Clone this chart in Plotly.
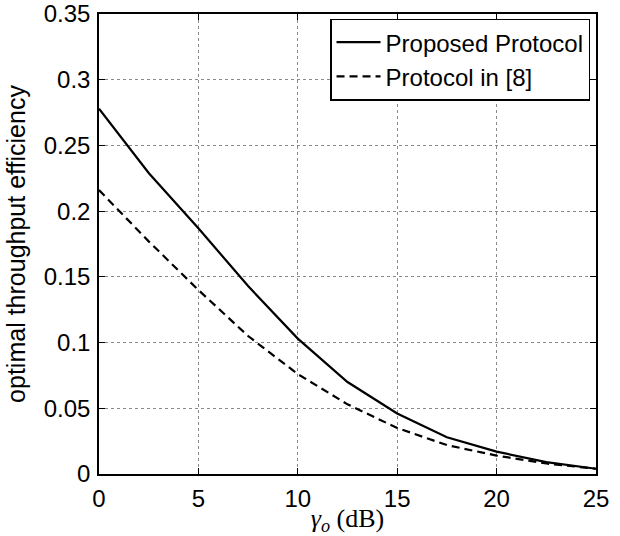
import plotly.graph_objects as go

x_db = [0, 2.5, 5, 7.5, 10, 12.5, 15, 17.5, 20, 22.5, 25]
proposed = [0.278, 0.229, 0.187, 0.143, 0.103, 0.070, 0.046, 0.028, 0.017, 0.009, 0.004]
ref8 = [0.216, 0.177, 0.140, 0.105, 0.076, 0.053, 0.035, 0.022, 0.014, 0.008, 0.004]

x_ticks = [0, 5, 10, 15, 20, 25]
y_ticks = [0, 0.05, 0.1, 0.15, 0.2, 0.25, 0.3, 0.35]
y_labels = ["0", "0.05", "0.1", "0.15", "0.2", "0.25", "0.3", "0.35"]

fig = go.Figure()
fig.add_trace(go.Scatter(x=x_db, y=proposed, mode="lines", name="Proposed Protocol",
                         line=dict(color="black", width=2.2)))
fig.add_trace(go.Scatter(x=x_db, y=ref8, mode="lines", name="Protocol in [8]",
                         line=dict(color="black", width=2.2, dash="8px,5px")))

sans = "Liberation Sans, Arial, Helvetica"
axis_common = dict(showline=True, linecolor="black", linewidth=1.5, mirror="allticks",
                   ticks="inside", ticklen=6, tickcolor="black", tickwidth=1,
                   showgrid=True, gridcolor="#8a8a8a", griddash="dot", gridwidth=1,
                   zeroline=False, automargin=False, ticklabeloverflow="allow",
                   tickfont=dict(family=sans, size=24, color="black"))

fig.update_layout(
    width=620, height=536,
    margin=dict(l=99, r=24, t=14, b=62),
    paper_bgcolor="white", plot_bgcolor="white",
    xaxis=dict(range=[0, 25], tickvals=x_ticks, ticktext=[str(v) for v in x_ticks],
               ticklabelstandoff=2,
               title=dict(text="<i>γ</i><sub><i>o</i></sub> (dB)", standoff=2,
                          font=dict(family="Liberation Serif, DejaVu Serif", size=26, color="black")),
               **axis_common),
    yaxis=dict(range=[0, 0.35], tickvals=y_ticks, ticktext=y_labels,
               ticklabelstandoff=2,
               title=dict(text="optimal throughput efficiency", standoff=11,
                          font=dict(family=sans, size=25, color="black")),
               **axis_common),
    legend=dict(x=0.988, y=0.99, xanchor="right", yanchor="top",
                bgcolor="white", bordercolor="black", borderwidth=1.5,
                font=dict(family=sans, size=24, color="black"),
                tracegroupgap=0, itemwidth=44),
    showlegend=True,
)

fig.write_html("out.html", config={"displayModeBar": False},
               post_script="document.body.style.margin='0';document.body.style.padding='0';")
